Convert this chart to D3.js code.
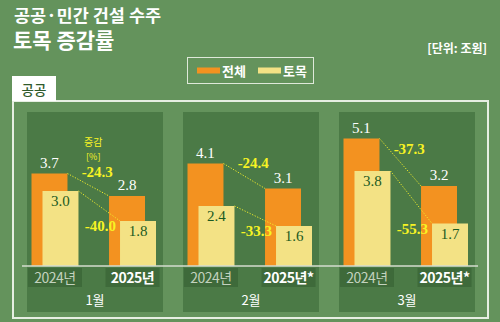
<!DOCTYPE html>
<html>
<head>
<meta charset="utf-8">
<script src="https://cdn.jsdelivr.net/npm/d3@7/dist/d3.min.js"></script>
<style>
  html, body { margin: 0; padding: 0; background: #64935c; }
  svg { display: block; }
</style>
</head>
<body>
<script>
// Monthly construction orders, public sector (trillion won)
const months = ["1월", "2월", "3월"];
const years = ["2024년", "2025년"];
const yearLabels = [["2024년", "2025년"], ["2024년", "2025년*"], ["2024년", "2025년*"]];
const series = ["전체", "토목"];
const totalValues = [[3.7, 2.8], [4.1, 3.1], [5.1, 3.2]];
const civilValues = [[3.0, 1.8], [2.4, 1.6], [3.8, 1.7]];
const totalChange = ["-24.3", "-24.4", "-37.3"];
const civilChange = ["-40.0", "-33.3", "-55.3"];

const W = 500, H = 322;
const colors = { "전체": "#f39220", "토목": "#f3e285" };
const sans = "'Noto Sans CJK KR', 'Noto Sans', sans-serif";
const serif = "'Liberation Serif', 'DejaVu Serif', serif";

const svg = d3.select("body").append("svg").attr("width", W).attr("height", H);
svg.append("rect").attr("width", W).attr("height", H).attr("fill", "#64935c");

// Titles
svg.append("text").attr("x", 14).attr("y", 22).attr("fill", "#fff")
  .attr("font-family", sans).attr("font-size", 17.5).attr("font-weight", 700)
  .text("공공·민간 건설 수주");
svg.append("text").attr("x", 13).attr("y", 48).attr("fill", "#fff")
  .attr("font-family", sans).attr("font-size", 21).attr("font-weight", 700)
  .text("토목 증감률");
svg.append("text").attr("x", 487).attr("y", 53).attr("fill", "#fff")
  .attr("text-anchor", "end").attr("font-family", sans).attr("font-size", 12).attr("font-weight", 700)
  .text("[단위: 조원]");

// Legend
const legend = svg.append("g");
legend.append("rect").attr("x", 187.5).attr("y", 57.5).attr("width", 126).attr("height", 26)
  .attr("fill", "none").attr("stroke", "#dfe9da").attr("stroke-width", 1);
const legendX = d3.scalePoint().domain(series).range([197, 258]);
series.forEach(s => {
  legend.append("rect").attr("x", legendX(s)).attr("y", 67.5).attr("width", 23).attr("height", 6)
    .attr("fill", colors[s]);
  legend.append("text").attr("x", legendX(s) + 25).attr("y", 76).attr("fill", "#fff")
    .attr("font-family", sans).attr("font-size", 13).attr("font-weight", 700).text(s);
});

// Outer frame with "공공" tab
svg.append("rect").attr("x", 13).attr("y", 101).attr("width", 475).attr("height", 217)
  .attr("fill", "none").attr("stroke", "#e6eee2").attr("stroke-width", 2);
svg.append("rect").attr("x", 12).attr("y", 76).attr("width", 44).attr("height", 25).attr("fill", "#ffffff");
svg.append("text").attr("x", 34).attr("y", 95).attr("text-anchor", "middle").attr("fill", "#2f5a2b")
  .attr("font-family", sans).attr("font-size", 13.5).attr("font-weight", 500).text("공공");

// Scales
const x0 = d3.scaleBand().domain(months).range([27, 475]).paddingInner(20 / 156);
const x1 = d3.scaleBand().domain(years).range([4.5, 129]).paddingInner(0.394);
const seriesOffset = d3.scaleOrdinal().domain(series).range([0, 11]);
const barW = x1.bandwidth() - 11;
const y = d3.scaleLinear().domain([0, 6]).range([266, 116]);

months.forEach((m, i) => {
  const g = svg.append("g").attr("transform", `translate(${x0(m)},0)`);
  g.append("rect").attr("x", 0).attr("y", 112).attr("width", x0.bandwidth()).attr("height", 200)
    .attr("fill", "#4b7a46");

  const vals = { "전체": totalValues[i], "토목": civilValues[i] };
  series.forEach(s => {
    years.forEach((yr, j) => {
      g.append("rect")
        .attr("x", x1(yr) + seriesOffset(s)).attr("y", y(vals[s][j]))
        .attr("width", barW).attr("height", y(0) - y(vals[s][j]))
        .attr("fill", colors[s]);
    });
  });

  // Dotted connectors between years
  series.forEach(s => {
    g.append("line")
      .attr("x1", x1(years[0]) + seriesOffset(s) + barW).attr("y1", y(vals[s][0]))
      .attr("x2", x1(years[1]) + seriesOffset(s)).attr("y2", y(vals[s][1]))
      .attr("stroke", "#f2ee2a").attr("stroke-width", 1).attr("stroke-dasharray", "1.2,1.6");
  });

  // Value labels
  years.forEach((yr, j) => {
    g.append("text").attr("x", x1(yr) + barW / 2).attr("y", y(vals["전체"][j]) - 6)
      .attr("text-anchor", "middle").attr("fill", "#ffffff")
      .attr("font-family", serif).attr("font-size", 15).text(vals["전체"][j].toFixed(1));
    g.append("text").attr("x", x1(yr) + 11 + barW / 2).attr("y", y(vals["토목"][j]) + 15)
      .attr("text-anchor", "middle").attr("fill", "#1c5a22")
      .attr("font-family", serif).attr("font-size", 15).text(vals["토목"][j].toFixed(1));
  });

  // Change labels
  const tx1 = x1(years[0]) + barW, tx2 = x1(years[1]);
  const midX = (tx1 + tx2) / 2 + 9;
  const midY = (y(totalValues[i][0]) + y(totalValues[i][1])) / 2 - 8;
  g.append("text").attr("x", midX).attr("y", midY)
    .attr("text-anchor", "middle").attr("fill", "#f7f324")
    .attr("font-family", serif).attr("font-size", 15).attr("font-weight", 700).text(totalChange[i]);
  g.append("text").attr("x", x1(years[1]) + 11 - 4).attr("y", y(civilValues[i][1]) + 10)
    .attr("text-anchor", "end").attr("fill", "#f7f324")
    .attr("font-family", serif).attr("font-size", 15).attr("font-weight", 700).text(civilChange[i]);

  if (i === 0) {
    g.append("text").attr("x", midX - 4).attr("y", 146).attr("text-anchor", "middle")
      .attr("fill", "#f7f324").attr("font-family", sans).attr("font-size", 10).text("증감");
    g.append("text").attr("x", midX - 4).attr("y", 159.5).attr("text-anchor", "middle")
      .attr("fill", "#f7f324").attr("font-family", sans).attr("font-size", 9).text("[%]");
  }

  // Year boxes
  years.forEach((yr, j) => {
    const cx = x1(yr) + x1.bandwidth() / 2;
    g.append("rect").attr("x", cx - 27).attr("y", 268).attr("width", 54).attr("height", 19)
      .attr("fill", "#3e6a3a");
    g.append("text").attr("x", cx).attr("y", 283).attr("text-anchor", "middle")
      .attr("fill", j === 0 ? "#c3d2be" : "#ffffff")
      .attr("font-family", sans).attr("font-size", 14).attr("font-weight", j === 0 ? 400 : 700)
      .attr("letter-spacing", -0.5)
      .text(yearLabels[i][j]);
  });

  g.append("text").attr("x", x0.bandwidth() / 2).attr("y", 305).attr("text-anchor", "middle")
    .attr("fill", "#ffffff").attr("font-family", sans).attr("font-size", 13).text(m);
});

// Baseline
svg.append("line").attr("x1", 22).attr("x2", 478).attr("y1", y(0)).attr("y2", y(0))
  .attr("stroke", "#d4dccf").attr("stroke-width", 1.5);
</script>
</body>
</html>
